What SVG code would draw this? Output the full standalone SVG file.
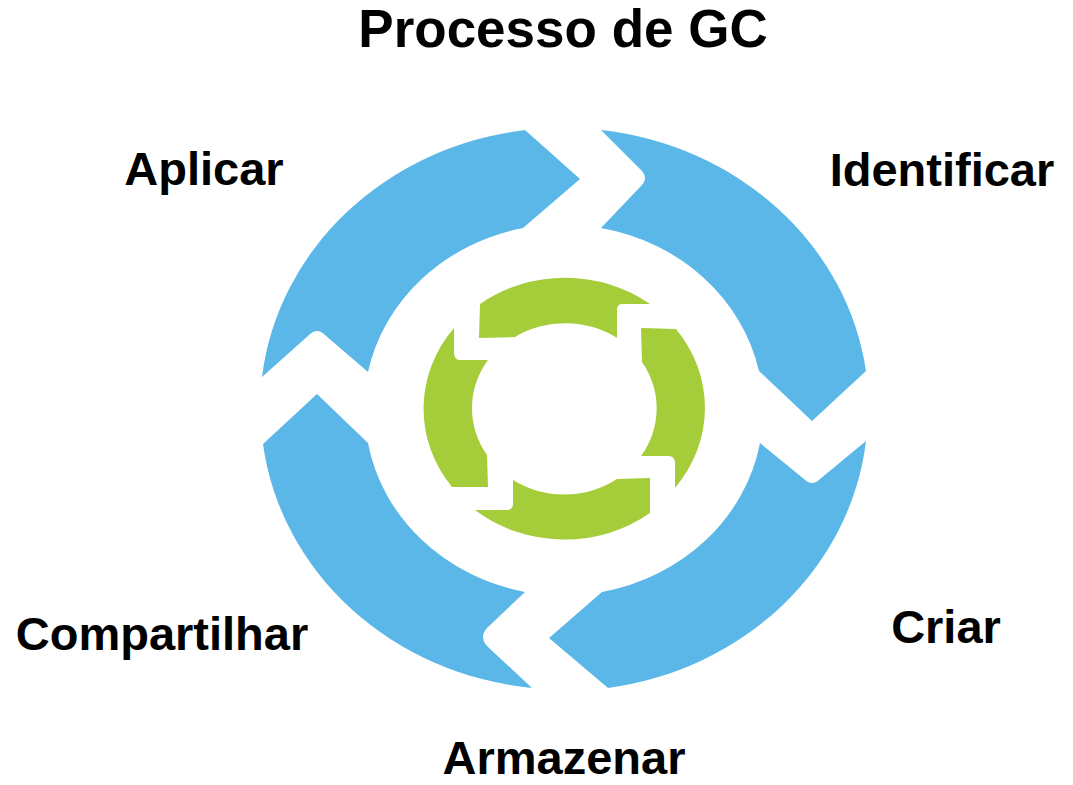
<svg xmlns="http://www.w3.org/2000/svg" width="1073" height="785" viewBox="0 0 1073 785">
<style>
.blue{fill:#5BB7E7;stroke:none}
.green{fill:#A5CD3A;stroke:none}
.lbl{font-family:"Liberation Sans",Arial,sans-serif;font-weight:bold;font-size:47px;fill:#000;text-anchor:middle}
.title{font-family:"Liberation Sans",Arial,sans-serif;font-weight:bold;font-size:53px;fill:#000;text-anchor:middle}
</style>
<rect width="1073" height="785" fill="#fff"/>
<text class="title" x="563" y="47">Processo de GC</text>
<g id="outer-ring">
<g id="seg-aplicar"><path class="blue" d="M262 377 A304 281 0 0 1 525 130 L580 179 L523 228 A200 185 0 0 0 368 372 L325 335 Q317 327 309 335 Z"/></g>
<g id="seg-identificar"><path class="blue" d="M601 130 A304 281 0 0 1 866 371 L812 421 L759 371 A200 185 0 0 0 601 228 L641 186 Q649 178 641 170 Z"/></g>
<g id="seg-criar"><path class="blue" d="M866 441 A304 281 0 0 1 608 688 L549 638 L602 592 A200 185 0 0 0 760 443 L804 479 Q812 487 820 479 Z"/></g>
<g id="seg-armazenar"><path class="blue" d="M532 688 A304 281 0 0 1 263 444 L317 394 L368 443 A200 185 0 0 0 525 592 L487 628 Q479 637 487 646 Z"/></g>
</g>
<g id="inner-ring">
<g id="g-top"><path class="green" d="M480 304 A141 130 0 0 1 650 304 L621 304 Q617 305 617 310 L617 338 A92 85.5 0 0 0 515 337 L479 338 Z"/></g>
<g id="g-right"><path class="green" d="M641 328 L676 329 A141 130 0 0 1 675 488 L675 462 Q674 456 669 456 L641 456 A92 85.5 0 0 0 642 362 Z"/></g>
<g id="g-bottom"><path class="green" d="M650 478 L650 513 A141 130 0 0 1 475 510 L508 510 Q513 509 513 504 L513 480 A92 85.5 0 0 0 617 479 Z"/></g>
<g id="g-left"><path class="green" d="M452 487 A141 130 0 0 1 454 328 L454 354 Q455 360 460 360 L488 360 A92 85.5 0 0 0 487 455 L488 487 Z"/></g>
</g>
<g id="connectors"></g>
<g id="labels">
<text class="lbl" x="204" y="185">Aplicar</text>
<text class="lbl" x="942" y="186">Identificar</text>
<text class="lbl" x="946" y="643">Criar</text>
<text class="lbl" x="564" y="774">Armazenar</text>
<text class="lbl" x="162" y="650">Compartilhar</text>
</g>
</svg>
